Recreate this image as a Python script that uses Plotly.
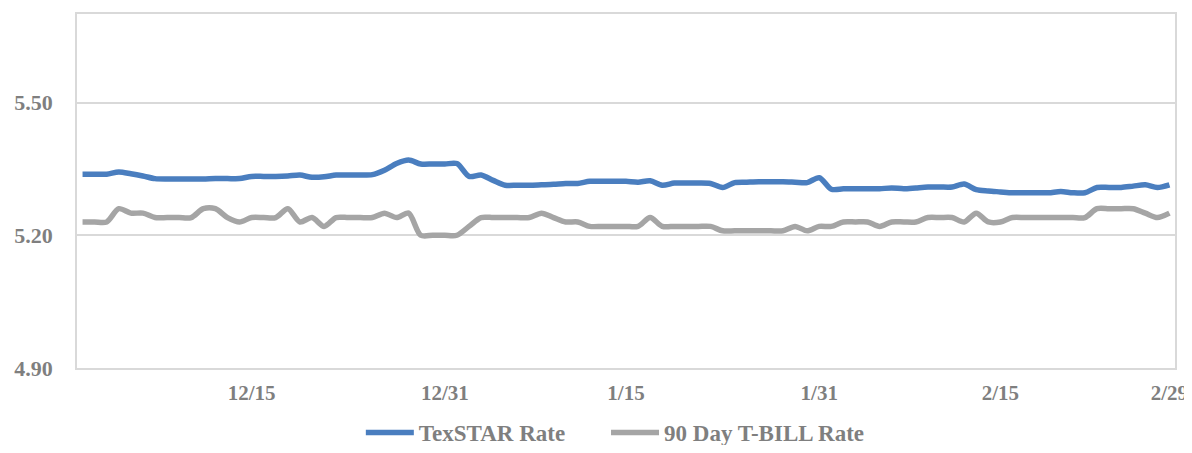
import pandas as pd
import plotly.graph_objects as go

# ---- data ----
start_date = "2023-12-01"
end_date = "2024-02-29"
dates = pd.date_range(start_date, end_date, freq="D")

texstar_rate = [
    5.338, 5.338, 5.338, 5.343, 5.339, 5.334, 5.328, 5.327, 5.327, 5.327,
    5.327, 5.328, 5.328, 5.328, 5.333, 5.333, 5.333, 5.334, 5.336, 5.331,
    5.332, 5.336, 5.336, 5.336, 5.337, 5.347, 5.362, 5.370, 5.361, 5.361,
    5.361, 5.362, 5.333, 5.336, 5.324, 5.313, 5.313, 5.313, 5.314, 5.315,
    5.317, 5.317, 5.322, 5.322, 5.322, 5.322, 5.320, 5.323, 5.313, 5.318,
    5.318, 5.318, 5.317, 5.308, 5.319, 5.320, 5.321, 5.321, 5.321, 5.320,
    5.319, 5.330, 5.304, 5.305, 5.305, 5.305, 5.305, 5.307, 5.305, 5.307,
    5.309, 5.309, 5.309, 5.316, 5.303, 5.300, 5.298, 5.296, 5.296, 5.296,
    5.296, 5.299, 5.296, 5.296, 5.308, 5.308, 5.308, 5.311, 5.314, 5.308,
    5.314,
]

tbill_rate = [
    5.23, 5.23, 5.23, 5.26, 5.25, 5.25, 5.24, 5.24, 5.24, 5.24,
    5.26, 5.26, 5.24, 5.23, 5.24, 5.24, 5.24, 5.26, 5.23, 5.24,
    5.22, 5.24, 5.24, 5.24, 5.24, 5.25, 5.24, 5.25, 5.20, 5.20,
    5.20, 5.20, 5.22, 5.24, 5.24, 5.24, 5.24, 5.24, 5.25, 5.24,
    5.23, 5.23, 5.22, 5.22, 5.22, 5.22, 5.22, 5.24, 5.22, 5.22,
    5.22, 5.22, 5.22, 5.21, 5.21, 5.21, 5.21, 5.21, 5.21, 5.22,
    5.21, 5.22, 5.22, 5.23, 5.23, 5.23, 5.22, 5.23, 5.23, 5.23,
    5.24, 5.24, 5.24, 5.23, 5.25, 5.23, 5.23, 5.24, 5.24, 5.24,
    5.24, 5.24, 5.24, 5.24, 5.26, 5.26, 5.26, 5.26, 5.25, 5.24,
    5.25,
]

tick_dates = ["2023-12-15", "2023-12-31", "2024-01-15", "2024-01-31", "2024-02-15", "2024-02-29"]
tick_labels = ["12/15", "12/31", "1/15", "1/31", "2/15", "2/29"]

series_names = ["TexSTAR Rate", "90 Day T-BILL Rate"]
series_colors = ["#4A7EBF", "#A5A5A5"]

FONT = "Liberation Serif"
TXT = "#7F7F7F"
GRID = "#D9D9D9"

fig = go.Figure()
for name, vals, col, lg in zip(series_names, [texstar_rate, tbill_rate], series_colors, ["legend", "legend2"]):
    fig.add_trace(go.Scatter(
        x=dates, y=vals, mode="lines", name=name, legend=lg,
        line=dict(color=col, width=5.5, shape="spline", smoothing=0.8),
    ))

legend_common = dict(
    orientation="h", xanchor="left", y=-0.182, yanchor="middle",
    font=dict(family=FONT, color=TXT, size=23, weight="bold"),
    itemwidth=48, bgcolor="rgba(0,0,0,0)",
)

fig.update_layout(
    width=1184, height=437,
    margin=dict(l=69, r=17, t=6, b=77, autoexpand=False),
    paper_bgcolor="white", plot_bgcolor="white",
    font=dict(family=FONT, color=TXT, size=21),
    showlegend=True,
    legend=dict(x=0.2585, **legend_common),
    legend2=dict(x=0.4818, **legend_common),
)

fig.update_xaxes(
    type="date", automargin=False,
    range=["2023-11-30 13:00", "2024-02-29 11:00"],
    tickvals=tick_dates, ticktext=tick_labels,
    showgrid=False, zeroline=False,
    showline=True, linecolor=GRID, linewidth=1.5, mirror=True,
    ticks="", ticklabelstandoff=5, ticklabeloverflow="allow",
    tickfont=dict(family=FONT, color=TXT, size=21, weight="bold"),
)
fig.update_yaxes(
    automargin=False,
    range=[4.90, 5.70], tick0=4.90, dtick=0.30, tickformat=".2f",
    showgrid=True, gridcolor=GRID, gridwidth=1.5, zeroline=False,
    showline=True, linecolor=GRID, linewidth=1.5, mirror=True,
    ticks="", ticklabelstandoff=18,
    tickfont=dict(family=FONT, color=TXT, size=22, weight="bold"),
)

fig.write_html("out.html")
